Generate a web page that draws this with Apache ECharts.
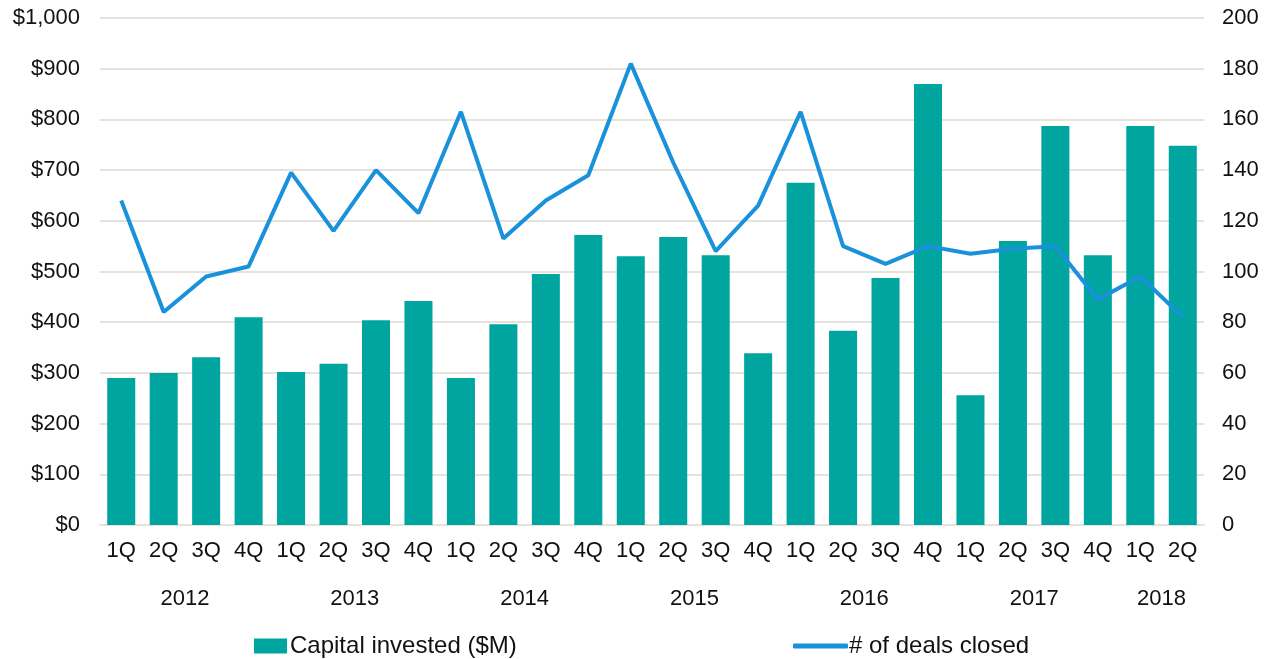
<!DOCTYPE html>
<html>
<head>
<meta charset="utf-8">
<script src="https://cdn.jsdelivr.net/npm/echarts@6/dist/echarts.min.js"></script>
<style>
  html, body { margin: 0; padding: 0; background: #fff; }
  #chart { width: 1280px; height: 659px; }
</style>
</head>
<body>
<div id="chart"></div>
<script>
// quarters 2012 1Q .. 2018 2Q
const quarters = ["1Q", "2Q", "3Q", "4Q", "1Q", "2Q", "3Q", "4Q", "1Q", "2Q", "3Q", "4Q", "1Q",
    "2Q", "3Q", "4Q", "1Q", "2Q", "3Q", "4Q", "1Q", "2Q", "3Q", "4Q", "1Q", "2Q"];
const years = ["2012", "2013", "2014", "2015", "2016", "2017", "2018"];
const yearPositions = [1.5, 5.5, 9.5, 13.5, 17.5, 21.5, 24.5];

const capitalInvested = [290, 300, 331, 410, 302, 318, 404, 442, 290, 396, 495, 572, 530,
    568, 532, 339, 675, 383, 487, 870, 256, 560, 787, 532, 787, 748];
const dealsClosed = [128, 84, 98, 102, 139, 116, 140, 123, 163, 113, 128, 138, 182,
    143, 108, 126, 163, 110, 103, 110, 107, 109, 110, 89, 98, 82];

const textColor = "#111";
const gridColor = "#e6e3dd";
const font = "Liberation Sans, Arial, sans-serif";

const chart = echarts.init(document.getElementById("chart"));

chart.setOption({
    animation: false,
    textStyle: { fontFamily: font },
    grid: { left: 100, right: 76, top: 18, bottom: 134 },
    legend: [
        {
            left: 249,
            top: 629,
            data: [{ name: "Capital invested ($M)", icon: "rect" }],
            itemWidth: 33,
            itemHeight: 15,
            itemGap: 4,
            textStyle: { fontSize: 24, color: textColor, fontFamily: font, padding: [0, 0, 0, -2] }
        },
        {
            left: 788,
            top: 629,
            data: [{ name: "# of deals closed", icon: "roundRect" }],
            itemWidth: 55,
            itemHeight: 5,
            textStyle: { fontSize: 24, color: textColor, fontFamily: font, padding: [0, 0, 0, -4] }
        }
    ],
    xAxis: [
        {
            type: "category",
            data: quarters,
            axisLine: { lineStyle: { color: gridColor, width: 2 } },
            axisTick: { show: false },
            axisLabel: { color: textColor, fontSize: 22, margin: 15, interval: 0 }
        },
        {
            type: "value",
            position: "bottom",
            min: -0.5,
            max: 25.5,
            offset: 48,
            axisLine: { show: false },
            axisTick: { show: false },
            splitLine: { show: false },
            axisLabel: {
                color: textColor,
                fontSize: 22,
                margin: 15,
                customValues: yearPositions,
                formatter: function (v) {
                    const i = yearPositions.indexOf(v);
                    return i > -1 ? years[i] : "";
                }
            }
        }
    ],
    yAxis: [
        {
            type: "value",
            min: 0,
            max: 1000,
            interval: 100,
            axisLine: { show: false },
            axisTick: { show: false },
            splitLine: { lineStyle: { color: gridColor, width: 2 } },
            axisLabel: {
                color: textColor,
                fontSize: 22,
                margin: 20,
                formatter: function (v) {
                    return "$" + v.toLocaleString("en-US");
                }
            }
        },
        {
            type: "value",
            min: 0,
            max: 200,
            interval: 20,
            axisLine: { show: false },
            axisTick: { show: false },
            splitLine: { show: false },
            axisLabel: { color: textColor, fontSize: 22, margin: 18 }
        }
    ],
    series: [
        {
            name: "Capital invested ($M)",
            type: "bar",
            data: capitalInvested,
            barWidth: "66%",
            itemStyle: { color: "#00a5a0" }
        },
        {
            name: "# of deals closed",
            type: "line",
            yAxisIndex: 1,
            data: dealsClosed,
            symbol: "none",
            lineStyle: { color: "#1a92db", width: 4 },
            itemStyle: { color: "#1a92db" }
        }
    ]
});
</script>
</body>
</html>
